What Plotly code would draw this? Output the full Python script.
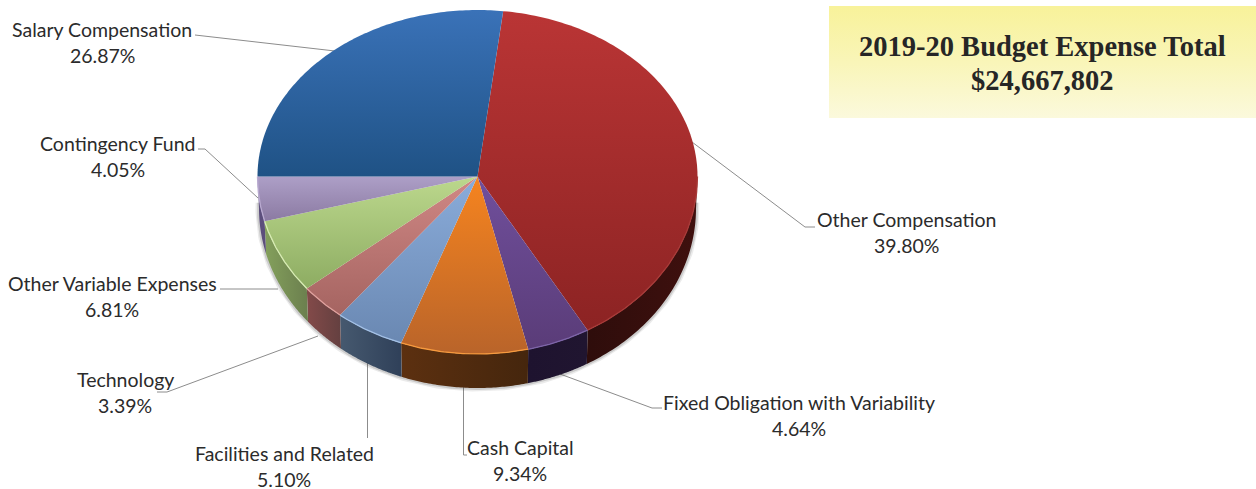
import numpy as np
import plotly.graph_objects as go

# ---- data ----
categories = ["Other Compensation", "Fixed Obligation with Variability", "Cash Capital",
              "Facilities and Related", "Technology", "Other Variable Expenses",
              "Contingency Fund", "Salary Compensation"]
shares = [39.80, 4.64, 9.34, 5.10, 3.39, 6.81, 4.05, 26.87]
share_labels = ["39.80%", "4.64%", "9.34%", "5.10%", "3.39%", "6.81%", "4.05%", "26.87%"]
title_lines = ["2019-20 Budget Expense Total", "$24,667,802"]

# ---- styles and placement ----
top_light = ["#ba3535", "#704f9c", "#f6841f", "#8aacda", "#d08885", "#bcd88d", "#ad9fc7", "#3a72b8"]
top_dark = ["#8c2323", "#5a3c78", "#b9642a", "#6a88b2", "#a56461", "#8dac62", "#8b7aa2", "#1f5285"]
side_a = ["#2e0d0b", "#1e132f", "#5c3010", "#46596f", "#834a49", "#84a05c", "#5c4e7c", "#000000"]
side_b = ["#3f100e", "#201530", "#45260d", "#2f4059", "#644040", "#6b7f4e", "#5c4e7c", "#000000"]
rim = ["#a83a38", "#7d64a8", "#f79a3e", "#a3c0e6", "#e0a09d", "#d8ecb4", "#b9aad0", "#3a72b8"]
label_xy = [(906, 219), (799, 402), (520, 447), (284, 453), (125, 379), (112, 283), (118, 143), (102, 29)]
leader_x = [[692, 805, 815], [560, 652, 662], [463.5, 463.5, 467], [367.5, 367.5], [318, 167, 157],
            [278, 220], [258, 205, 198], [335, 195]]
leader_y = [[142, 227, 227], [374, 408, 408], [385, 455, 455], [362, 438], [336, 392, 392],
            [289, 289], [198, 149, 149], [51, 35]]

CX, CY, RX, RY_UP, RY_DOWN = 477.5, 176.5, 220, 166.5, 177.5
DEPTH, RX_B, RY_B = 32, 218.5, 179.5
START = 6.7


def top_pt(a):
    r = np.radians(a)
    c = np.cos(r)
    return CX + RX * np.sin(r), CY - c * np.where(c > 0, RY_UP, RY_DOWN)


def bot_pt(a):
    r = np.radians(a)
    c = np.cos(r)
    return CX + RX_B * np.sin(r), CY + DEPTH - c * np.where(c > 0, RY_UP, RY_B)


ends = START + np.cumsum(np.array(shares)) * 3.6
begins = np.concatenate([[START], ends[:-1]])

fig = go.Figure()


def add(x, y, **kw):
    fig.add_trace(go.Scatter(x=list(x), y=list(y), hoverinfo="skip", showlegend=False, **kw))


# header box
add([829, 1256, 1256, 829, 829], [6, 6, 118, 118, 6], mode="none", fill="toself",
    fillgradient=dict(type="vertical", start=6, stop=118,
                      colorscale=[[0, "#f8f29a"], [0.5, "#f9f5b8"], [1, "#fbf9dc"]]))

# leaders
for lx, ly in zip(leader_x, leader_y):
    add(lx, ly, mode="lines", line=dict(color="#8c8c8c", width=1))

# soft shadow round the lower edge
ang = np.linspace(88, 272, 200)
sx, sy = bot_pt(ang)
add(sx, sy, mode="lines", line=dict(color="rgba(60,60,60,0.10)", width=7))
add(sx, sy, mode="lines", line=dict(color="rgba(60,60,60,0.18)", width=4))

# sides (front half only)
for b, e, a1, a2 in zip(begins, ends, side_a, side_b):
    lo, hi = max(b, 90), min(e, 270)
    if hi <= lo:
        continue
    ang = np.linspace(lo, hi, 60)
    tx, ty = top_pt(ang)
    bx, by = bot_pt(ang)
    x = np.concatenate([tx, bx[::-1], tx[:1]])
    y = np.concatenate([ty, by[::-1], ty[:1]])
    add(x, y, mode="none", fill="toself",
        fillgradient=dict(type="horizontal", start=float(x.min()), stop=float(x.max()),
                          colorscale=[[0, a1], [1, a2]]))

# top surface
for b, e, c1, c2 in zip(begins, ends, top_light, top_dark):
    ang = np.linspace(b, e, 120)
    ax, ay = top_pt(ang)
    x = np.concatenate([[CX], ax, [CX]])
    y = np.concatenate([[CY], ay, [CY]])
    add(x, y, mode="none", fill="toself",
        fillgradient=dict(type="vertical", start=float(y.min()), stop=float(y.max()),
                          colorscale=[[0, c1], [1, c2]]))

# lit rim on the front edge
for b, e, c in zip(begins, ends, rim):
    lo, hi = max(b, 90), min(e, 270)
    if hi <= lo:
        continue
    ax, ay = top_pt(np.linspace(lo, hi, 60))
    add(ax, ay, mode="lines", line=dict(color=c, width=1.3))

# text
annotations = []
for name, pct, (lx, ly) in zip(categories, share_labels, label_xy):
    for text, yy in ((name, ly), (pct, ly + 26)):
        annotations.append(dict(x=lx, y=yy, text=text, showarrow=False, xanchor="center", yanchor="middle",
                                font=dict(family="Lato, Carlito, sans-serif", size=19.5, color="#2b2b2b")))
for text, yy in zip(title_lines, (46, 80)):
    annotations.append(dict(x=1042, y=yy, text="<b>%s</b>" % text, showarrow=False, xanchor="center",
                            yanchor="middle",
                            font=dict(family="Liberation Serif, serif", size=28.5, color="#262626")))

fig.update_layout(
    width=1256, height=489, margin=dict(l=0, r=0, t=0, b=0),
    paper_bgcolor="white", plot_bgcolor="white", showlegend=False, annotations=annotations,
    xaxis=dict(range=[0, 1256], visible=False, fixedrange=True),
    yaxis=dict(range=[489, 0], visible=False, fixedrange=True),
)
fig.write_html("out.html", config=dict(displayModeBar=False),
               post_script="document.body.style.margin='0';")
